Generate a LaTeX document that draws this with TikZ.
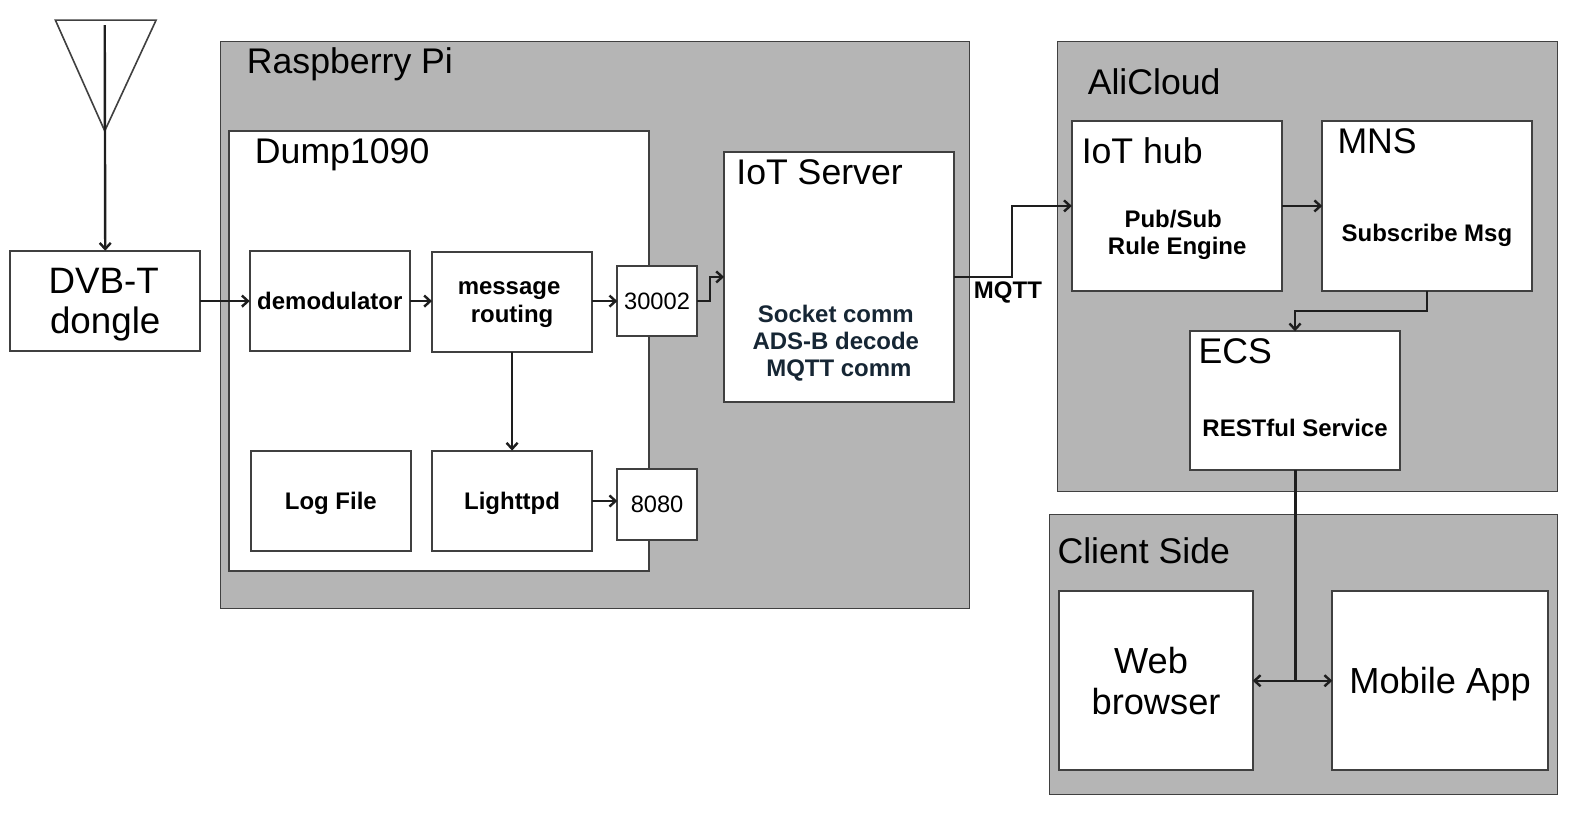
\documentclass[tikz,border=0pt]{standalone}
\usepackage{fontspec}
\setmainfont{Liberation Sans}
\usepackage{xcolor}
\usetikzlibrary{arrows.meta, positioning}
\definecolor{groupgray}{RGB}{181, 181, 181}
\definecolor{edgegray}{RGB}{64, 64, 64}
\definecolor{linkdark}{RGB}{30, 30, 30}
\definecolor{bodynavy}{RGB}{22, 38, 52}
\newcommand{\titlefont}{\fontsize{35.4}{40}\selectfont}
\newcommand{\bodyfont}{\fontsize{23.8}{27}\selectfont\bfseries}
\tikzset{
    groupbox/.style={draw=edgegray, fill=groupgray, line width=1.2pt, anchor=center, inner sep=0pt, outer sep=0pt},
    whitebox/.style={draw=edgegray, fill=white, line width=2pt, inner sep=0pt, outer sep=0pt, align=center, text depth=0pt},
    titletext/.style={anchor=base west, inner sep=0pt, font=\titlefont},
    bodytext/.style={anchor=base, inner sep=0pt, font=\bodyfont},
    link/.style={draw=linkdark, line width=2.4pt, -{Straight Barb[length=6pt, width=11pt]}},
}
\begin{document}
\begin{tikzpicture}[x=1pt, y=-1pt]
    \useasboundingbox (0,0) rectangle (1568,808);
    % antenna
    \coordinate (feedtop) at (104,25);
    \draw[edgegray, line width=1.6pt] (55,20) -- (155,20) -- (104,130) -- cycle;
    % groups
    \node[groupbox, minimum width=744pt, minimum height=563pt] (raspi) at (591,322.5) {};
    \node[groupbox, minimum width=497pt, minimum height=447pt] (alicloud) at (1298.5,264.5) {};
    \node[groupbox, minimum width=505pt, minimum height=278pt] (client) at (1294.5,650) {};
    \node[whitebox, minimum width=417pt, minimum height=437pt] (dump) at (435.5,348.5) {};
    % boxes
    \node[whitebox, minimum width=189pt, minimum height=100pt, font=\fontsize{36.5}{40}\selectfont] (dongle) at (104.5,299) {DVB-T\hspace*{3pt}\\dongle};
    \node[whitebox, minimum width=159pt, minimum height=100pt, font=\bodyfont] (demod) at (327.5,299) {demodulator};
    \node[whitebox, minimum width=159pt, minimum height=100pt, font=\bodyfont] (routing) at (508.5,300) {message\hspace*{6pt}\\routing};
    \node[whitebox, minimum width=159pt, minimum height=100pt, font=\bodyfont] (logfile) at (328.5,497.5) {Log File};
    \node[whitebox, minimum width=159pt, minimum height=100pt, font=\bodyfont] (lighttpd) at (508.5,497.5) {Lighttpd};
    \node[whitebox, minimum width=79pt, minimum height=70pt, font=\fontsize{23.5}{27}\selectfont] (portmsg) at (652.5,299) {30002};
    \node[whitebox, minimum width=79pt, minimum height=70pt, font=\fontsize{23.5}{27}\selectfont] (porthttp) at (652.5,501) {8080};
    \node[whitebox, minimum width=228pt, minimum height=248pt] (iotserver) at (833,275) {};
    \node[whitebox, minimum width=208.6pt, minimum height=169pt] (iothub) at (1168.7,204.5) {};
    \node[whitebox, minimum width=208pt, minimum height=169pt] (mns) at (1417,204.5) {};
    \node[whitebox, minimum width=208pt, minimum height=138pt] (ecs) at (1286,398) {};
    \node[whitebox, minimum width=192pt, minimum height=178pt, font=\fontsize{36}{41}\selectfont] (web) at (1148,676) {Web\hspace*{10pt}\\browser};
    \node[whitebox, minimum width=214pt, minimum height=178pt, font=\fontsize{36}{41}\selectfont] (mobile) at (1430,676) {Mobile App};
    % titles
    \node[titletext] (raspititle) at (245,73) {Raspberry Pi};
    \node[titletext] (dumptitle) at (253,162) {Dump1090};
    \node[titletext] (iotservertitle) at (731,183) {IoT Server};
    \node[titletext] (alicloudtitle) at (1080,94) {AliCloud};
    \node[titletext] (iothubtitle) at (1074,162) {IoT hub};
    \node[titletext] (mnstitle) at (1328,152) {MNS};
    \node[titletext] (ecstitle) at (1190,361) {ECS};
    \node[titletext] (clienttitle) at (1050,560) {Client Side};
    % body text
    \node[bodytext, text=bodynavy] (socketline) at (830,320) {Socket comm};
    \node[bodytext, text=bodynavy] (adsbline) at (830,347) {ADS-B decode};
    \node[bodytext, text=bodynavy] (mqttline) at (833,374) {MQTT comm};
    \node[bodytext] (pubsubline) at (1165,226) {Pub/Sub};
    \node[bodytext] (ruleline) at (1169,253) {Rule Engine};
    \node[bodytext] (subscribeline) at (1417,240) {Subscribe Msg};
    \node[bodytext] (restline) at (1286,433) {RESTful Service};
    \node[bodytext, anchor=base west] (mqttlabel) at (967,296) {MQTT};
    % connectors
    \draw[link] (feedtop) -- (dongle.north);
    \draw[link] (dongle.east) -- (demod.west);
    \draw[link] (demod.east) -- (routing.west |- demod.east);
    \draw[link] (routing.east |- portmsg.west) -- (portmsg.west);
    \draw[link] (routing.south) -- (lighttpd.north);
    \draw[link] (lighttpd.east) -- (porthttp.west |- lighttpd.east);
    \draw[link] (portmsg.east) -- ++(13,0) |- (iotserver.west);
    \draw[link] (iotserver.east) -- ++(58,0) |- (iothub.west);
    \draw[link] (iothub.east) -- (mns.west);
    \draw[link] (mns.south) -- ++(0,20) -| (ecs.north);
    \coordinate (branch) at (ecs.south |- web.east);
    \draw[draw=linkdark, line width=3pt] (ecs.south) -- (branch);
    \draw[link, {Straight Barb[length=6pt, width=11pt]}-{Straight Barb[length=6pt, width=11pt]}] (web.east) -- (mobile.west);
\end{tikzpicture}
\end{document}
